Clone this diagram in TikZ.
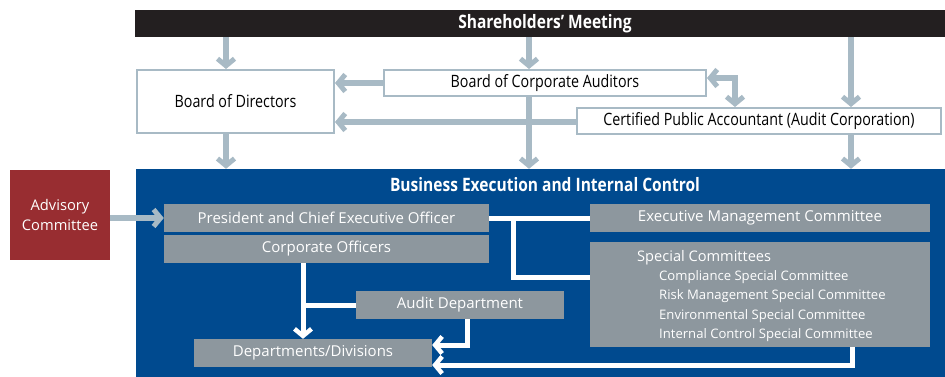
\documentclass[tikz,border=0pt]{standalone}
\usepackage{fontspec}
\setmainfont{Open Sans}
\newfontfamily\condfont[FakeStretch=0.84]{Open Sans}
\usetikzlibrary{arrows.meta}
\definecolor{barblack}{HTML}{231F20}
\definecolor{linegray}{HTML}{A8BAC5}
\definecolor{execblue}{HTML}{004A8F}
\definecolor{advred}{HTML}{982D31}
\definecolor{boxgray}{HTML}{8D979E}
\tikzset{
  topbox/.style={draw=linegray, line width=2pt, fill=white, inner sep=0pt, font=\condfont\fontsize{17}{20}\selectfont, text=black},
  graybox/.style={fill=boxgray, inner sep=0pt, text=white, font=\fontsize{15}{18}\selectfont},
  garrow/.style={draw=linegray, line width=6pt, -{Straight Barb[length=7pt,width=17pt,line width=5pt]}},
  garrowboth/.style={draw=linegray, line width=6pt, {Straight Barb[length=7pt,width=17pt,line width=5pt]}-{Straight Barb[length=7pt,width=17pt,line width=5pt]}},
  warrow/.style={draw=white, line width=5pt, -{Straight Barb[length=7pt,width=17pt,line width=4.5pt]}},
  wline/.style={draw=white, line width=5pt},
}
\begin{document}
\begin{tikzpicture}[x=1pt,y=-1pt]
\useasboundingbox (0,0) rectangle (945,377);
% Shareholders' bar
\node[fill=barblack, minimum width=810pt, minimum height=27pt, inner sep=0pt, text=white, font=\condfont\bfseries\fontsize{18.5}{20}\selectfont] (sh) at (540,23.5) {\hspace{10pt}Shareholders’ Meeting};
% top boxes
\node[topbox, minimum width=197pt, minimum height=63pt] (bod) at (235.5,101.5) {Board of Directors};
\node[topbox, minimum width=322pt, minimum height=26pt] (bca) at (545,83) {Board of Corporate Auditors};
\node[topbox, minimum width=364pt, minimum height=26pt] (cpa) at (759,121) {Certified Public Accountant (Audit Corporation)};
% blue area
\node[fill=execblue, minimum width=809pt, minimum height=208pt, inner sep=0pt] (blue) at (540.5,273) {};
\node[text=white, font=\condfont\bfseries\fontsize{18.5}{20}\selectfont] (bt) at (545,185) {Business Execution and Internal Control};
% advisory
\node[fill=advred, minimum width=100pt, minimum height=90pt, inner sep=0pt, text=white, align=center, font=\fontsize{14.7}{19.5}\selectfont] (adv) at (60,215) {Advisory\\Committee};
% gray boxes
\node[graybox, minimum width=325pt, minimum height=28pt] (pres) at (326.5,218) {President and Chief Executive Officer};
\node[graybox, minimum width=325pt, minimum height=28pt] (corp) at (326.5,249) {Corporate Officers};
\node[graybox, minimum width=340pt, minimum height=28pt] (emc) at (760,218) {Executive Management Committee};
\node[graybox, minimum width=340pt, minimum height=105pt] (spc) at (760,294.5) {};
\node[anchor=west, inner sep=0pt, text=white, align=left, font=\fontsize{14.6}{18}\selectfont] (spct) at (637,258) {Special Committees};
\node[anchor=north west, inner sep=0pt, text=white, align=left, font=\fontsize{13.1}{19.2}\selectfont] (spcl) at (659,270.5) {Compliance Special Committee\\Risk Management Special Committee\\Environmental Special Committee\\Internal Control Special Committee};
\node[graybox, minimum width=208pt, minimum height=28pt] (aud) at (460,305) {Audit Department};
\node[graybox, minimum width=238pt, minimum height=28pt] (dep) at (313,353) {Departments/Divisions};
% reference x positions
\coordinate (xa) at (226,0);
\coordinate (xb) at (529,0);
\coordinate (xc) at (851,0);
\coordinate (xd) at (735,78);
% gray connectors
\draw[garrow] (sh.south -| xa) -- (bod.north -| xa);
\draw[garrow] (sh.south -| xb) -- (bca.north -| xb);
\draw[garrow] (sh.south -| xc) -- (cpa.north -| xc);
\draw[garrow] (bca.west) -- (bca.west -| bod.east);
\draw[garrow] (cpa.west |- 0,122) -- (bod.east |- 0,122);
\draw[garrow] (bca.south -| xb) -- (blue.north -| xb);
\draw[garrow] (bod.south -| xa) -- (blue.north -| xa);
\draw[garrow] (cpa.south -| xc) -- (blue.north -| xc);
\draw[garrowboth] (bca.east |- xd) -- (xd) -- (cpa.north -| xd);
\draw[garrow] (adv.east |- pres.west) -- (pres.west);
% white connectors
\coordinate (xe) at (513,277);
\coordinate (xf) at (303,305);
\draw[wline] (pres.east) -- (emc.west);
\draw[wline] (pres.east -| xe) -- (xe) -- (spc.west |- xe);
\draw[warrow] (corp.south -| xf) -- (dep.north -| xf);
\draw[wline] (aud.west) -- (xf);
\coordinate (yg) at (467,345);
\coordinate (yh) at (852,365);
\draw[warrow] (aud.south -| yg) -- (yg) -- (dep.east |- yg);
\draw[warrow] (spc.south -| yh) -- (yh) -- (dep.east |- yh);
\end{tikzpicture}
\end{document}
